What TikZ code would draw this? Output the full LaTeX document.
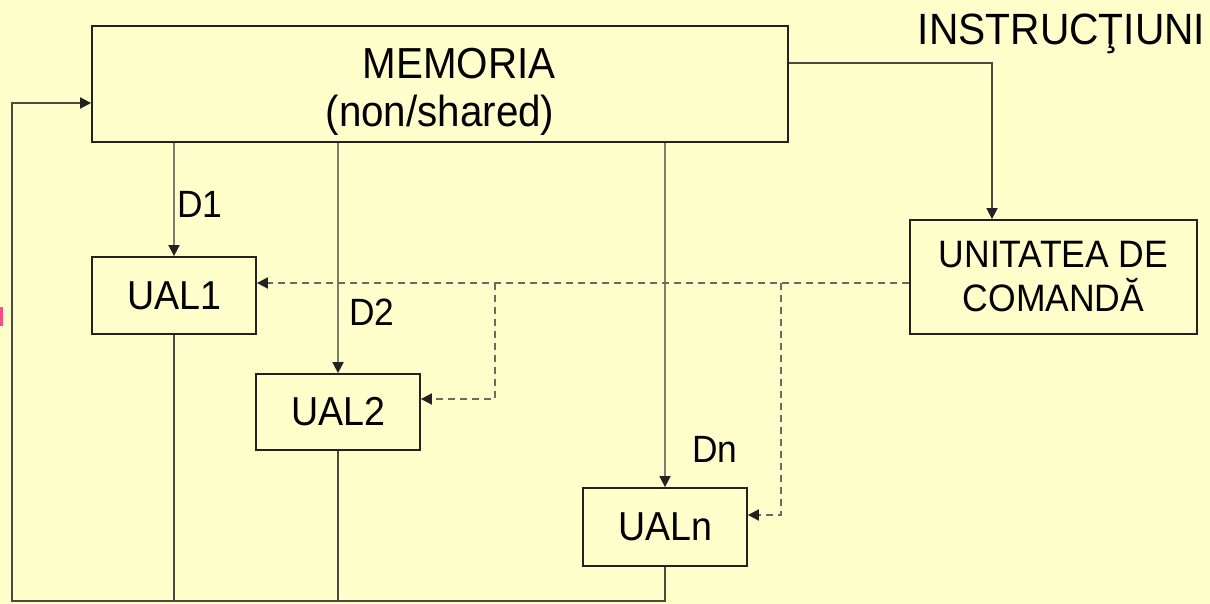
\documentclass[tikz,border=0pt]{standalone}
\usepackage{fontspec}
\setmainfont[FakeStretch=0.93]{Liberation Sans}
\usetikzlibrary{arrows.meta}
\definecolor{bg}{HTML}{FFFFCC}
\definecolor{boxline}{HTML}{222222}
\definecolor{conn}{HTML}{4A4A42}
\definecolor{dline}{HTML}{7E7E6E}
\definecolor{ctlline}{HTML}{6A6A62}
\definecolor{frag}{HTML}{FF4A84}
\tikzset{
  blk/.style={draw=boxline, line width=1.8pt, rectangle, inner sep=0pt, align=center, text=black},
  tip/.style={-{Triangle[length=11pt,width=11pt,color=boxline]}},
  conn/.style={draw=conn, line width=1.8pt},
  dconn/.style={draw=dline, line width=1.8pt, tip},
  ctl/.style={draw=ctlline, line width=1.8pt, dash pattern=on 7pt off 5pt, tip},
  lbl/.style={text=black, inner sep=0pt}
}
\begin{document}
\begin{tikzpicture}[x=1pt,y=-1pt]
\fill[bg] (0,0) rectangle (1210,604);
\useasboundingbox (0,0) rectangle (1210,604);
\fill[frag] (0,307) rectangle (2.5,326);

\node[blk, minimum width=696pt, minimum height=116pt, font=\fontsize{43.4}{52}\selectfont] (mem) at (440,84)
  {\rule{0pt}{45pt}\hspace*{38pt}MEMORIA\\[-4pt](non/shared)};
\node[blk, minimum width=164pt, minimum height=77pt, font=\fontsize{40.4}{48}\selectfont] (ual1) at (174,295.5) {UAL1};
\node[blk, minimum width=164pt, minimum height=76pt, font=\fontsize{40.4}{48}\selectfont] (ual2) at (338,412) {UAL2};
\node[blk, minimum width=164pt, minimum height=78pt, font=\fontsize{40.4}{48}\selectfont] (ualn) at (665,527) {UALn};
\node[blk, minimum width=287pt, minimum height=114pt, font=\fontsize{38.2}{45}\selectfont] (uc) at (1053.5,277)
  {UNITATEA DE\\[-1pt]COMANDĂ};

\node[lbl, anchor=base, font=\fontsize{43.8}{52}\selectfont] (instr) at (1061.5,45) {INSTRUCŢIUNI};
\node[lbl, anchor=base west, font=\fontsize{38}{45}\selectfont] (d1) at (177,218) {D1};
\node[lbl, anchor=base west, font=\fontsize{38}{45}\selectfont] (d2) at (349,325) {D2};
\node[lbl, anchor=base west, font=\fontsize{38}{45}\selectfont] (dn) at (692,462) {Dn};

% data paths
\draw[dconn] (ual1.north |- mem.south) -- (ual1.north);
\draw[dconn] (ual2.north |- mem.south) -- (ual2.north);
\draw[dconn] (ualn.north |- mem.south) -- (ualn.north);

% instructions
\draw[conn, tip] ([yshift=21pt]mem.east) -| ([xshift=-61.5pt]uc.north);

% feedback
\coordinate (bl) at (12,601);
\draw[conn] (ual1.south) -- (ual1.south |- bl);
\draw[conn] (ual2.south) -- (ual2.south |- bl);
\draw[conn, tip] (ualn.south) |- (bl) |- ([yshift=-19pt]mem.west);

% control (dashed)
\coordinate (b2) at (495,283);
\coordinate (bn) at (781,283);
\draw[ctl] ([yshift=-6pt]uc.west) -- ([yshift=-6pt]uc.west -| ual1.east);
\draw[ctl] (b2) |- ([yshift=13pt]ual2.east);
\draw[ctl] (bn) |- ([yshift=12pt]ualn.east);
\end{tikzpicture}
\end{document}
